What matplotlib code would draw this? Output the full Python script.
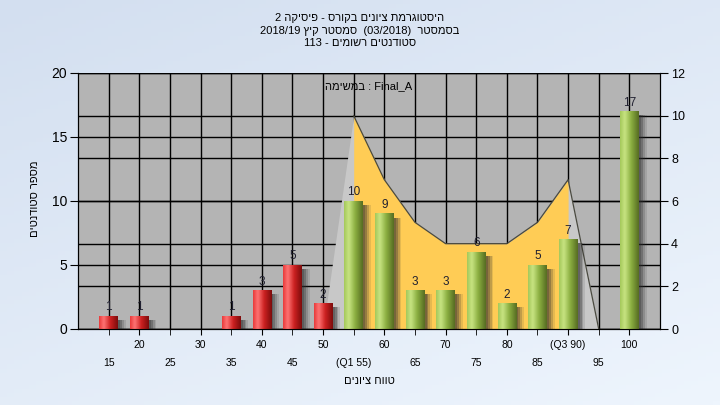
import re
import numpy as np
import matplotlib
matplotlib.use('Agg')
import matplotlib.pyplot as plt
from matplotlib.colors import LinearSegmentedColormap
from matplotlib.patches import Rectangle
import matplotlib.transforms as mtransforms

plt.rcParams['font.family'] = ['Liberation Sans', 'DejaVu Sans']

# data
grades = [15, 20, 25, 30, 35, 40, 45, 50, 55, 60, 65, 70, 75, 80, 85, 90, 95, 100]
xlabels = ['15', '20', '25', '30', '35', '40', '45', '50', '(Q1 55)', '60',
           '65', '70', '75', '80', '85', '(Q3 90)', '95', '100']
counts = [1, 1, 0, 0, 1, 3, 5, 2, 10, 9, 3, 3, 6, 2, 5, 7, 0, 17]
pass_grade = 55

curve_grades = [50, 55, 60, 65, 70, 75, 80, 85, 90, 95]
curve_vals = [0, 10, 7, 5, 4, 4, 4, 5, 7, 0]

left_ticks = [0, 5, 10, 15, 20]
right_ticks = [0, 2, 4, 6, 8, 10, 12]

title_lines = ['היסטוגרמת ציונים בקורס - פיסיקה 2',
               'בסמסטר  (03/2018)  סמסטר קיץ 2018/19',
               'סטודנטים רשומים - 113']
list_label = 'Final_A : במשימה'
xlabel = 'טווח ציונים'
ylabel = 'מספר סטודנטים'


def rtl(s):
    # matplotlib has no bidi support: build the visual order by hand
    toks = re.findall(r'[A-Za-z0-9_/.]+|.', s)[::-1]
    mirror = {'(': ')', ')': '('}
    return ''.join(mirror.get(t, t) for t in toks)


fig = plt.figure(figsize=(7.2, 4.05), dpi=100)

# background gradient
bg = fig.add_axes([0, 0, 1, 1], zorder=-10)
gy, gx = np.mgrid[0:1:100j, 0:1:100j]
bg.imshow(0.6 * gy + 0.4 * gx, cmap=LinearSegmentedColormap.from_list('bg', ['#d3dff0', '#eef5fd']),
          aspect='auto', extent=[0, 1, 0, 1], origin='upper')
bg.axis('off')

ax = fig.add_axes([78 / 720, 1 - 329 / 405, 582 / 720, 256 / 405])
ax2 = ax.twinx()
ax.set_facecolor('#b4b4b4')
ax.set_axisbelow(True)

idx = np.arange(len(grades))

# grid: vertical at categories, horizontal at both axes' ticks
ax.set_yticks(left_ticks)
ax.grid(True, axis='y', color='black', lw=1)
for xi in idx:
    ax.axvline(xi, color='black', lw=1, zorder=0.5)
ax2.set_ylim(0, right_ticks[-1])
rt = mtransforms.blended_transform_factory(ax.transAxes, ax2.transData)
for v in right_ticks:
    ax.plot([0, 1], [v, v], color='black', lw=1, transform=rt, zorder=0.5)

# distribution area (right axis units)
cx = [grades.index(g) for g in curve_grades]
ax.fill_between(cx, 0, curve_vals, color='#c8c8c8', transform=ax2.transData, zorder=1, lw=0)
ax.fill_between(cx[1:-1], 0, curve_vals[1:-1], color='#ffcc55', transform=ax2.transData, zorder=1.1, lw=0)
ax.plot(cx[1:], curve_vals[1:], color='#4a4a40', lw=0.9, transform=ax2.transData, zorder=1.2)

# bars with gradient and soft shadow
red = LinearSegmentedColormap.from_list('r', [(0, '#e83a3a'), (0.25, '#ff7474'), (0.6, '#cc2020'), (1, '#7c0c0c')])
green = LinearSegmentedColormap.from_list('g', [(0, '#a4c85a'), (0.25, '#c8e482'), (0.6, '#8aae40'), (1, '#566c22')])
grad = np.linspace(0, 1, 64).reshape(1, -1)
w = 0.6
for xi, g, c in zip(idx, grades, counts):
    if c == 0:
        continue
    for k, a in [(0.08, 0.3), (0.14, 0.3), (0.20, 0.2), (0.26, 0.12)]:
        ax.add_patch(Rectangle((xi - w / 2 + k, -0.3), w, c, color='#303030', alpha=a, lw=0, zorder=2))
    ax.imshow(grad, cmap=red if g < pass_grade else green, aspect='auto', interpolation='bicubic',
              extent=[xi - w / 2, xi + w / 2, 0, c], zorder=3)
    ax.annotate(str(c), (xi, c), xytext=(0, 2), textcoords='offset points', ha='center', va='bottom',
                fontsize=8.5, color='#202030', zorder=4)

ax.set_xlim(-1, len(grades))
ax.set_ylim(0, left_ticks[-1])

# staggered category labels
ax.set_xticks(idx[1::2])
ax.set_xticklabels(xlabels[1::2])
ax.set_xticks(idx[0::2], minor=True)
ax.set_xticklabels(xlabels[0::2], minor=True)
ax.tick_params(axis='x', which='major', length=4, pad=4, labelsize=7.5, color='black')
ax.tick_params(axis='x', which='minor', length=4, pad=17, labelsize=7.5, color='black')
ax.tick_params(axis='y', length=6, pad=2, labelsize=10)
ax2.set_yticks(right_ticks)
ax2.tick_params(axis='y', length=6, pad=2, labelsize=9)

for a in (ax, ax2):
    a.spines['top'].set_visible(False)
    for s in ('left', 'right', 'bottom'):
        a.spines[s].set_color('black')

ax.text(0.5, 0.95, rtl(list_label), transform=ax.transAxes, ha='center', va='center', fontsize=8, zorder=5)

for line, y in zip(title_lines, [18, 31, 43]):
    fig.text(0.5, 1 - y / 405, rtl(line), ha='center', va='center', fontsize=8)
fig.text(369 / 720, 1 - 381 / 405, rtl(xlabel), ha='center', va='center', fontsize=8)
fig.text(35 / 720, 1 - 199 / 405, rtl(ylabel), ha='center', va='center', rotation=90, fontsize=8)

fig.savefig('out.png', dpi=100)
